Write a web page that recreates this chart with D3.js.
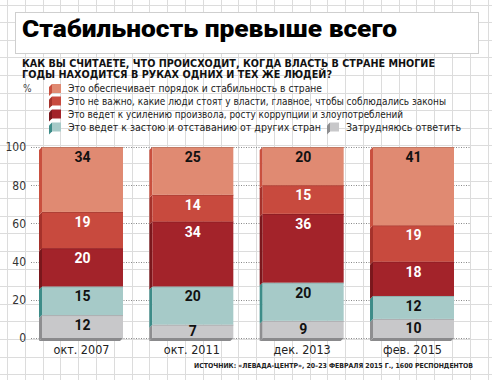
<!DOCTYPE html>
<html>
<head>
<meta charset="utf-8">
<script src="https://cdnjs.cloudflare.com/ajax/libs/d3/7.8.5/d3.min.js"></script>
<style>
    body { margin: 0; background: #fff; }
    svg { display: block; }
    text { font-family: "Liberation Sans Narrow", "DejaVu Sans Condensed", Roboto, sans-serif; }
</style>
</head>
<body>
<svg id="chart" width="492" height="380"></svg>
<script>
var categories = ['окт. 2007', 'окт. 2011', 'дек. 2013', 'фев. 2015'];

// values bottom to top
var hardToSay = [12, 7, 9, 10];
var stagnation = [15, 20, 20, 12];
var corruption = [20, 34, 36, 18];
var lawMatters = [19, 14, 15, 19];
var stability = [34, 25, 20, 41];

var yTicks = [0, 20, 40, 60, 80, 100];

var seriesNames = [
    'Это обеспечивает порядок и стабильность в стране',
    'Это не важно, какие люди стоят у власти, главное, чтобы соблюдались законы',
    'Это ведет к усилению произвола, росту коррупции и злоупотреблений',
    'Это ведет к застою и отставанию от других стран',
    'Затрудняюсь ответить'
];

var series = [
    {values: hardToSay, front: '#c8c8ca', side: '#8e8e90', text: '#111'},
    {values: stagnation, front: '#a6cac8', side: '#3d8c88', text: '#111'},
    {values: corruption, front: '#a3232a', side: '#7a171c', text: '#fff'},
    {values: lawMatters, front: '#c84a3e', side: '#a5322b', text: '#fff'},
    {values: stability, front: '#e08a72', side: '#c9503f', text: '#111'}
];

var svg = d3.select('#chart'),
    W = 492, H = 380, depth = 3;

// fit a text to a given width, shrinking the font first so the squeeze stays small
function fit(sel, len) {
    var node = sel.node(), w = node.getComputedTextLength();
    if (w > len) {
        var fs = parseFloat(sel.style('font-size'));
        sel.style('font-size', (fs * len / w).toFixed(2) + 'px');
    }
    sel.attr('textLength', len).attr('lengthAdjust', 'spacingAndGlyphs');
    return sel;
}

// background grid paper
var grid = svg.append('g').attr('stroke', '#dcdcdc').attr('stroke-width', 1);
d3.range(7, W, 17.8).forEach(function(x) {
    grid.append('line').attr('x1', Math.round(x) + 0.5).attr('x2', Math.round(x) + 0.5).attr('y1', 0).attr('y2', H);
});
d3.range(4.5, H, 17.6).forEach(function(y) {
    grid.append('line').attr('y1', Math.round(y) + 0.5).attr('y2', Math.round(y) + 0.5).attr('x1', 0).attr('x2', W);
});

// title box
svg.append('rect')
    .attr('x', 15.5).attr('y', 12.5).attr('width', 463).attr('height', 41)
    .attr('fill', '#fff').attr('stroke', '#cfcfcf');

fit(svg.append('text')
    .attr('x', 22).attr('y', 37)
    .style('font-family', 'Roboto, sans-serif')
    .style('font-weight', 900).style('font-size', '23px')
    .attr('fill', '#000')
    .text('Стабильность превыше всего'), 375);

var sub = [
    ['КАК ВЫ СЧИТАЕТЕ, ЧТО ПРОИСХОДИТ, КОГДА ВЛАСТЬ В СТРАНЕ МНОГИЕ', 413],
    ['ГОДЫ НАХОДИТСЯ В РУКАХ ОДНИХ И ТЕХ ЖЕ ЛЮДЕЙ?', 310]
];
sub.forEach(function(s, i) {
    fit(svg.append('text')
        .attr('x', 22).attr('y', 67 + i * 11)
        .style('font-weight', 700).style('font-size', '11px')
        .attr('fill', '#111')
        .text(s[0]), s[1]);
});

svg.append('text')
    .attr('x', 23).attr('y', 92)
    .style('font-size', '10px').attr('fill', '#444')
    .text('%');

// legend
function swatch(g, x, y, s) {
    g.append('path')
        .attr('d', 'M' + x + ',' + y + 'l' + (-depth) + ',' + depth + 'v9l' + depth + ',' + (-depth) + 'z')
        .attr('fill', s.side);
    g.append('rect').attr('x', x).attr('y', y).attr('width', 9).attr('height', 9).attr('fill', s.front);
}

var legend = svg.append('g');
var legendRows = [
    {s: series[4], name: seriesNames[0], x: 52, y: 84, len: 254},
    {s: series[3], name: seriesNames[1], x: 52, y: 96.5, len: 378},
    {s: series[2], name: seriesNames[2], x: 52, y: 109.5, len: 335},
    {s: series[1], name: seriesNames[3], x: 52, y: 122.5, len: 253},
    {s: series[0], name: seriesNames[4], x: 330, y: 122.5, len: 115}
];
legendRows.forEach(function(r) {
    swatch(legend, r.x, r.y, r.s);
    fit(legend.append('text')
        .attr('x', r.x + 16).attr('y', r.y + 8)
        .style('font-size', '10.5px').attr('fill', '#222')
        .text(r.name), r.len);
});

// scales
var x = d3.scaleBand().domain(categories).range([42, 454]).paddingInner(0.266).paddingOuter(0);
var y = d3.scaleLinear().domain([0, 100]).range([338, 147]);

var yAxis = svg.append('g')
    .attr('transform', 'translate(30,0)')
    .call(d3.axisLeft(y).tickValues(yTicks).tickSize(0).tickPadding(4));
yAxis.select('.domain').remove();
yAxis.selectAll('text')
    .style('font-family', '"Liberation Sans Narrow", "DejaVu Sans Condensed", sans-serif')
    .style('font-size', '12px').attr('fill', '#333');

svg.append('g').selectAll('line')
    .data(yTicks).join('line')
    .attr('x1', 31).attr('x2', 471)
    .attr('y1', function(d) { return Math.round(y(d)) + 0.5; })
    .attr('y2', function(d) { return Math.round(y(d)) + 0.5; })
    .attr('stroke', '#888').attr('stroke-dasharray', '1,1.5');

// stacked 3d bars
var bars = svg.append('g');
categories.forEach(function(cat, ci) {
    var x0 = x(cat), x1 = x0 + x.bandwidth(), acc = 0;

    // bottom shadow
    bars.append('path')
        .attr('d', 'M' + x0 + ',' + y(0) + 'H' + x1 + 'l' + (-depth) + ',' + depth + 'H' + (x0 - depth) + 'z')
        .attr('fill', '#8a8a8c');

    series.forEach(function(s) {
        var v = s.values[ci],
            yb = y(acc), yt = y(acc + v);
        acc += v;
        bars.append('path')
            .attr('d', 'M' + x0 + ',' + yt + 'l' + (-depth) + ',' + depth + 'V' + (yb + depth) + 'l' + depth + ',' + (-depth) + 'z')
            .attr('fill', s.side);
        bars.append('rect')
            .attr('x', x0).attr('y', yt).attr('width', x.bandwidth()).attr('height', yb - yt)
            .attr('fill', s.front);
        bars.append('line')
            .attr('x1', x0).attr('x2', x1).attr('y1', yt + 0.5).attr('y2', yt + 0.5)
            .attr('stroke', d3.color(s.front).darker(0.4)).attr('stroke-width', 1);
        var h = yb - yt;
        bars.append('text')
            .attr('x', x0 + x.bandwidth() / 2)
            .attr('y', yt + Math.min(10, h / 2))
            .attr('dy', '0.36em')
            .attr('text-anchor', 'middle')
            .style('font-family', 'Roboto, sans-serif')
            .style('font-weight', 700).style('font-size', '14px')
            .attr('fill', s.text)
            .text(v);
    });
});

// category labels
svg.append('g').selectAll('text')
    .data(categories).join('text')
    .attr('x', function(d) { return x(d) + x.bandwidth() / 2 - 1; })
    .attr('y', 354)
    .attr('text-anchor', 'middle')
    .style('font-size', '12.5px').attr('fill', '#222')
    .text(function(d) { return d; });

fit(svg.append('text')
    .attr('x', 194).attr('y', 368)
    .style('font-size', '9.5px').style('font-weight', 700).attr('fill', '#222')
    .text('ИСТОЧНИК: «ЛЕВАДА-ЦЕНТР», 20–23 ФЕВРАЛЯ 2015 Г., 1600 РЕСПОНДЕНТОВ'), 279);
</script>
</body>
</html>
